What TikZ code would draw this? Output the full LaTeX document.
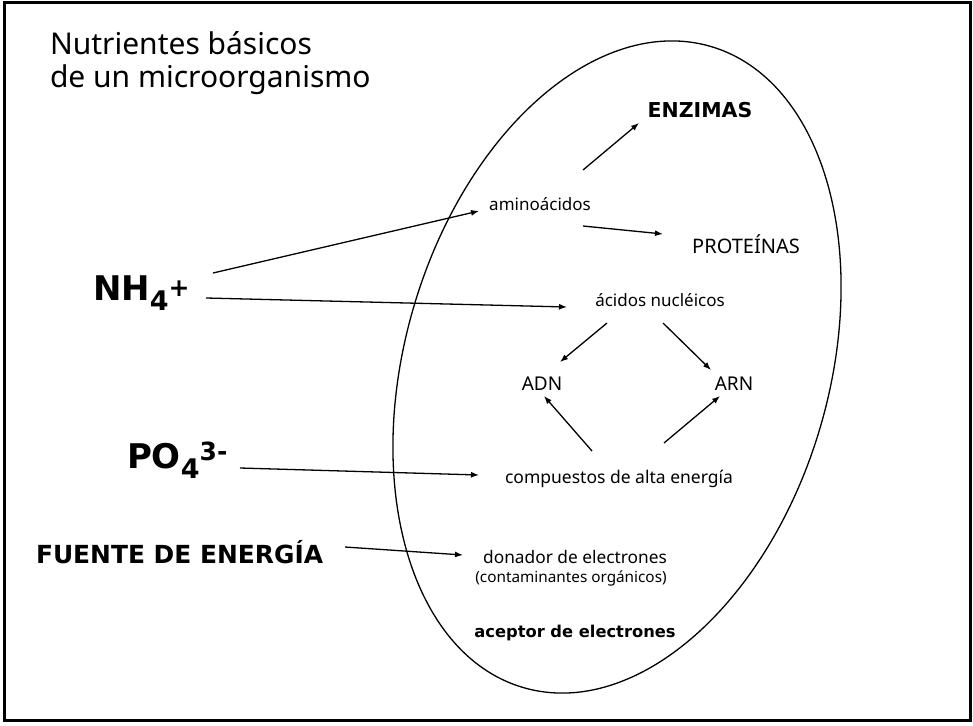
\documentclass[tikz,border=0pt]{standalone}
\usepackage{fontspec}
\setmainfont{Noto Sans}
\newfontfamily\bfam{DejaVu Sans Bold}
\usetikzlibrary{arrows.meta}
\newcommand{\fsz}[1]{\fontsize{#1pt}{#1pt}\selectfont}
\begin{document}
\begin{tikzpicture}[x=1pt,y=-1pt,
  lbl/.style={inner sep=0pt,outer sep=0pt},
  arr/.style={line width=1.3pt,-{Latex[length=8pt,width=6pt]}},
  ell/.style={line width=1.3pt},
  frame/.style={line width=3pt}]
\useasboundingbox (0,0) rectangle (973,725);
\draw[frame] (4,3) rectangle (970,720);
% ellipse (cell)
\draw[ell, rotate around={-16.3:(617,367)}] (617,367) ellipse [x radius=212, y radius=334];
% title
\node[lbl,anchor=base west] (t1) at (50,55) {\fsz{30}Nutrientes básicos};
\node[lbl,anchor=base west] (t2) at (50,87) {\fsz{30}de un microorganismo};
% left nutrients
\node[lbl,anchor=base west] (nh4) at (93,300) {\bfam\fsz{34}NH\raisebox{-10pt}{\fsz{27}4}\raisebox{4pt}{\fsz{25}+}};
\node[lbl,anchor=base west] (po4) at (127,468) {\bfam\fsz{34}PO\raisebox{-10pt}{\fsz{27}4}\raisebox{8pt}{\fsz{25}3-}};
\node[lbl,anchor=base west] (fuente) at (36,563) {\bfam\fsz{24.9}FUENTE DE ENERGÍA};
% inside cell
\node[lbl,anchor=base] (enz) at (700,117) {\bfam\fsz{20.5}ENZIMAS};
\node[lbl,anchor=base] (amino) at (540,210) {\fsz{17}aminoácidos};
\node[lbl,anchor=base] (prot) at (746,253) {\fsz{20}PROTEÍNAS};
\node[lbl,anchor=base] (acid) at (660,306) {\fsz{17}ácidos nucléicos};
\node[lbl,anchor=base] (adn) at (542,390) {\fsz{19}ADN};
\node[lbl,anchor=base] (arn) at (734,390) {\fsz{19}ARN};
\node[lbl,anchor=base] (comp) at (619,483) {\fsz{17.5}compuestos de alta energía};
\node[lbl,anchor=base] (don) at (575,563) {\fsz{17.3}donador de electrones};
\node[lbl,anchor=base] (cont) at (571,582) {\fsz{15.3}(contaminantes orgánicos)};
\node[lbl,anchor=base] (acep) at (575,637) {\bfam\fsz{16.3}aceptor de electrones};
% arrows
\draw[arr] ([shift={(120,-27)}]nh4.base west) -- ([shift={(-61,1)}]amino.base);
\draw[arr] ([shift={(113,-2)}]nh4.base west) -- ([shift={(-93,1)}]acid.base);
\draw[arr] ([shift={(43,-40)}]amino.base) -- ([shift={(-61,6)}]enz.base);
\draw[arr] ([shift={(43,16)}]amino.base) -- ([shift={(-83,-19)}]prot.base);
\draw[arr] ([shift={(-53,17)}]acid.base) -- ([shift={(18,-28)}]adn.base);
\draw[arr] ([shift={(3,17)}]acid.base) -- ([shift={(-23,-20)}]arn.base);
\draw[arr] ([shift={(-27,-32)}]comp.base) -- ([shift={(2,6)}]adn.base);
\draw[arr] ([shift={(45,-40)}]comp.base) -- ([shift={(-14,6)}]arn.base);
\draw[arr] ([shift={(113,0)}]po4.base west) -- ([shift={(-140,-8)}]comp.base);
\draw[arr] ([shift={(309,-16)}]fuente.base west) -- ([shift={(-112,-8)}]don.base);
\end{tikzpicture}
\end{document}
